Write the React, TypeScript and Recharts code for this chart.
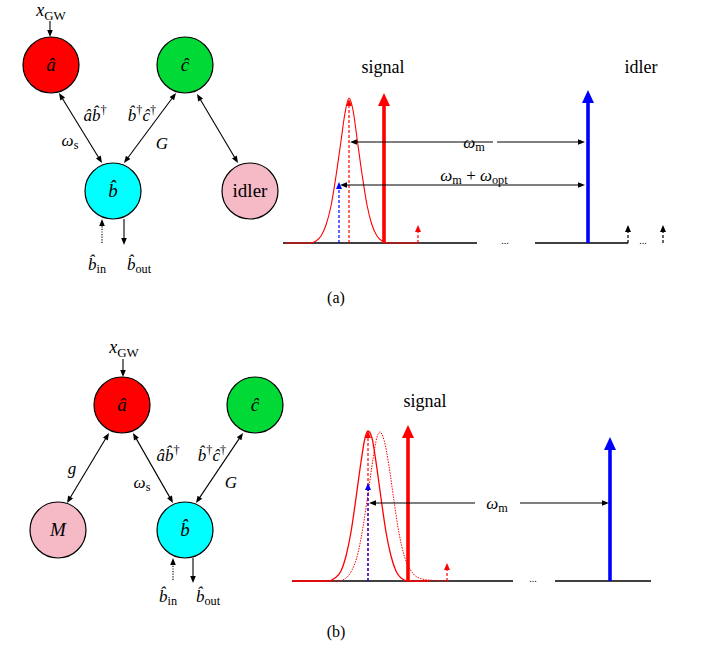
import React from 'react';
import { ComposedChart, XAxis, YAxis, Line, Scatter, ReferenceLine } from 'recharts';

// canvas units match the figure, y grows downwards
const W = 705;
const H = 649;

type Part = { t: string; i?: boolean; sub?: boolean; sup?: boolean };

const it = (t: string): Part => ({ t, i: true });
const rm = (t: string): Part => ({ t });
const sub = (t: string): Part => ({ t, sub: true });
const sup = (t: string): Part => ({ t, sup: true });

// cavity modes
const nodes = [
  { x: 51, y: 65, kind: 'a', parts: [it('â')] },
  { x: 185, y: 65, kind: 'c', parts: [it('ĉ')] },
  { x: 113, y: 191, kind: 'b', parts: [it('b\u0302')] },
  { x: 250, y: 191, kind: 'idler', parts: [rm('idler')] },
  { x: 122, y: 405, kind: 'a', parts: [it('â')] },
  { x: 255, y: 405, kind: 'c', parts: [it('ĉ')] },
  { x: 58, y: 530, kind: 'M', parts: [it('M')] },
  { x: 185, y: 530, kind: 'b', parts: [it('b\u0302')] },
];

const labels = [
  { x: 51, y: 10, role: 'big', parts: [it('x'), sub('GW')] },
  { x: 95, y: 115, role: 'math', parts: [it('â'), it('b\u0302'), sup('†')] },
  { x: 70, y: 140, role: 'math', parts: [it('ω'), sub('s')] },
  { x: 142, y: 115, role: 'math', parts: [it('b\u0302'), sup('†'), it('ĉ'), sup('†')] },
  { x: 162, y: 143, role: 'math', parts: [it('G')] },
  { x: 97, y: 264, role: 'math', parts: [it('b\u0302'), sub('in')] },
  { x: 139, y: 264, role: 'math', parts: [it('b\u0302'), sub('out')] },
  { x: 383, y: 67, role: 'title', parts: [rm('signal')] },
  { x: 641, y: 67, role: 'title', parts: [rm('idler')] },
  { x: 474, y: 142, role: 'math', parts: [it('ω'), sub('m')] },
  { x: 474, y: 175, role: 'math', parts: [it('ω'), sub('m'), rm(' + '), it('ω'), sub('opt')] },
  { x: 505, y: 241, role: 'dots', parts: [rm('...')] },
  { x: 643, y: 241, role: 'dots', parts: [rm('...')] },
  { x: 336, y: 298, role: 'caption', parts: [rm('(a)')] },
  { x: 124, y: 347, role: 'big', parts: [it('x'), sub('GW')] },
  { x: 72, y: 468, role: 'math', parts: [it('g')] },
  { x: 142, y: 482, role: 'math', parts: [it('ω'), sub('s')] },
  { x: 168, y: 455, role: 'math', parts: [it('â'), it('b\u0302'), sup('†')] },
  { x: 212, y: 455, role: 'math', parts: [it('b\u0302'), sup('†'), it('ĉ'), sup('†')] },
  { x: 231, y: 482, role: 'math', parts: [it('G')] },
  { x: 168, y: 596, role: 'math', parts: [it('b\u0302'), sub('in')] },
  { x: 208, y: 596, role: 'math', parts: [it('b\u0302'), sub('out')] },
  { x: 425, y: 401, role: 'title', parts: [rm('signal')] },
  { x: 497, y: 503, role: 'math', parts: [it('ω'), sub('m')] },
  { x: 533, y: 579, role: 'dots', parts: [rm('...')] },
  { x: 336, y: 632, role: 'caption', parts: [rm('(b)')] },
];

// couplings and ports: [x1, y1, x2, y2, kind, heads]
const arrows: [number, number, number, number, string, string][] = [
  [50, 21, 50, 37, 'thin', 'end'],
  [59, 93, 102, 163, 'thin', 'both'],
  [176, 93, 124, 163, 'thin', 'both'],
  [197, 94, 238, 163, 'thin', 'both'],
  [102, 243, 102, 219, 'dotted', 'end'],
  [124, 219, 124, 245, 'thin', 'end'],
  [493, 142, 350, 142, 'thin', 'end'],
  [497, 142, 585, 142, 'thin', 'end'],
  [340, 185, 585, 185, 'thin', 'both'],
  [123, 359, 123, 377, 'thin', 'end'],
  [109, 433, 67, 503, 'thin', 'both'],
  [133, 433, 173, 503, 'thin', 'both'],
  [243, 433, 196, 503, 'thin', 'both'],
  [173, 580, 173, 558, 'dotted', 'end'],
  [193, 558, 193, 583, 'thin', 'end'],
  [475, 503, 369, 503, 'thin', 'end'],
  [520, 503, 609, 503, 'thin', 'end'],
];

// spectral lines: [x, base, top, kind]
const spikes: [number, number, number, string][] = [
  [349, 243, 99, 'redDash'],
  [339, 243, 182, 'blueDash'],
  [384, 243, 93, 'red'],
  [418, 243, 225, 'redDash'],
  [588, 243, 90, 'blue'],
  [628, 243, 225, 'blackDash'],
  [663, 243, 225, 'blackDash'],
  [368, 581, 431, 'redDash'],
  [368, 581, 483, 'blueDash'],
  [408, 581, 425, 'red'],
  [447, 581, 563, 'redDash'],
  [610, 581, 437, 'blue'],
];

// frequency axes
const rules: [number, number, number][] = [
  [283, 477, 243],
  [535, 628, 243],
  [292, 513, 581],
  [555, 651, 581],
];

// signal spectra
const signalA = [
  { x: 285, y: 243 }, { x: 310, y: 243 }, { x: 316, y: 241 }, { x: 321, y: 236 },
  { x: 326, y: 225 }, { x: 331, y: 206 }, { x: 336, y: 176 }, { x: 341, y: 141 },
  { x: 345, y: 113 }, { x: 349, y: 98 }, { x: 353, y: 110 }, { x: 357, y: 138 },
  { x: 362, y: 174 }, { x: 367, y: 205 }, { x: 372, y: 225 }, { x: 377, y: 236 },
  { x: 382, y: 241 }, { x: 388, y: 243 }, { x: 418, y: 243 },
];

const signalB = [
  { x: 292, y: 581 }, { x: 328, y: 581 }, { x: 335, y: 578 }, { x: 341, y: 571 },
  { x: 346, y: 556 }, { x: 351, y: 532 }, { x: 356, y: 498 }, { x: 361, y: 462 },
  { x: 365, y: 438 }, { x: 368, y: 431 }, { x: 372, y: 438 }, { x: 376, y: 462 },
  { x: 381, y: 498 }, { x: 386, y: 532 }, { x: 391, y: 556 }, { x: 396, y: 571 },
  { x: 401, y: 578 }, { x: 408, y: 581 }, { x: 430, y: 581 },
];

const shiftedB = [
  { x: 292, y: 581 }, { x: 338, y: 581 }, { x: 346, y: 578 }, { x: 352, y: 570 },
  { x: 358, y: 553 }, { x: 363, y: 527 }, { x: 368, y: 494 }, { x: 373, y: 459 },
  { x: 377, y: 437 }, { x: 380, y: 432 }, { x: 384, y: 440 }, { x: 389, y: 466 },
  { x: 394, y: 501 }, { x: 399, y: 533 }, { x: 404, y: 555 }, { x: 410, y: 569 },
  { x: 417, y: 577 }, { x: 428, y: 580 }, { x: 450, y: 581 },
];

const nodeFill: Record<string, string> = {
  a: '#ff0000',
  b: '#00ffff',
  c: '#00d936',
  idler: '#f6b9c6',
  M: '#f6b9c6',
};

const arrowStyle: Record<string, any> = {
  thin: { stroke: '#000', w: 1.1, head: 7, half: 2.8 },
  dotted: { stroke: '#000', w: 1.1, head: 7, half: 2.8, dash: '1.2 1.4' },
  red: { stroke: '#ff0000', w: 3.6, head: 13, half: 6 },
  blue: { stroke: '#0000ff', w: 3.6, head: 13, half: 6 },
  redDash: { stroke: '#ff0000', w: 1.2, head: 7, half: 3, dash: '3 2' },
  blueDash: { stroke: '#0000ff', w: 1.2, head: 7, half: 3, dash: '3 2' },
  blackDash: { stroke: '#000', w: 1.2, head: 7, half: 3, dash: '3 2' },
};

const fontFor: Record<string, number> = { big: 18, math: 17, title: 18, caption: 16, dots: 10, node: 19 };

const SERIF = '"Liberation Serif", "DejaVu Serif", serif';

const Rich = ({ x, y, parts, size }: { x: number; y: number; parts: Part[]; size: number }) => {
  let shift = 0;
  const spans = parts.map((p, k) => {
    const target = p.sub ? size * 0.22 : p.sup ? -size * 0.38 : 0;
    const dy = target - shift;
    shift = target;
    return (
      <tspan
        key={k}
        dy={dy}
        fontStyle={p.i ? 'italic' : 'normal'}
        fontSize={p.sub || p.sup ? size * 0.72 : size}
      >
        {p.t}
      </tspan>
    );
  });
  return (
    <text x={x} y={y + size * 0.33} textAnchor="middle" fontFamily={SERIF} fontSize={size} fill="#000">
      {spans}
    </text>
  );
};

const Arrow = (p: any, kind: string, heads: string) => {
  const s = arrowStyle[kind];
  const { x1, y1, x2, y2 } = p;
  const dx = x2 - x1;
  const dy = y2 - y1;
  const len = Math.hypot(dx, dy) || 1;
  const ux = dx / len;
  const uy = dy / len;
  const both = heads === 'both';
  const sx = both ? x1 + ux * s.head * 0.8 : x1;
  const sy = both ? y1 + uy * s.head * 0.8 : y1;
  const ex = x2 - ux * s.head * 0.8;
  const ey = y2 - uy * s.head * 0.8;
  const tri = (tx: number, ty: number, vx: number, vy: number) => {
    const bx = tx - vx * s.head;
    const by = ty - vy * s.head;
    return `${tx},${ty} ${bx - vy * s.half},${by + vx * s.half} ${bx + vy * s.half},${by - vx * s.half}`;
  };
  return (
    <g>
      <line x1={sx} y1={sy} x2={ex} y2={ey} stroke={s.stroke} strokeWidth={s.w} strokeDasharray={s.dash} />
      <polygon points={tri(x2, y2, ux, uy)} fill={s.stroke} />
      {both && <polygon points={tri(x1, y1, -ux, -uy)} fill={s.stroke} />}
    </g>
  );
};

const NodeShape = (p: any) => {
  const { cx, cy, payload } = p;
  return (
    <g>
      <circle cx={cx} cy={cy} r={28} fill={nodeFill[payload.kind]} stroke="#000" strokeWidth={1.2} />
      <Rich x={cx} y={cy} parts={payload.parts} size={fontFor.node} />
    </g>
  );
};

const LabelShape = (p: any) => {
  const { cx, cy, payload } = p;
  return <Rich x={cx} y={cy} parts={payload.parts} size={fontFor[payload.role]} />;
};

export default function App() {
  return (
    <div style={{ position: 'absolute', left: 0, top: 0, width: W, height: H, background: '#fff' }}>
      <ComposedChart width={W} height={H} margin={{ top: 0, right: 0, bottom: 0, left: 0 }}>
        <XAxis type="number" dataKey="x" domain={[0, W]} allowDataOverflow hide />
        <YAxis type="number" dataKey="y" domain={[0, H]} reversed allowDataOverflow hide />

        {rules.map(([a, b, y], k) => (
          <ReferenceLine
            key={`rule-${k}`}
            segment={[{ x: a, y }, { x: b, y }]}
            stroke="#000"
            strokeWidth={1.3}
          />
        ))}

        <Line data={signalA} dataKey="y" type="monotone" stroke="#ff0000" strokeWidth={1.1} dot={false} isAnimationActive={false} />
        <Line data={shiftedB} dataKey="y" type="monotone" stroke="#ff0000" strokeWidth={1} strokeDasharray="1.5 1.2" dot={false} isAnimationActive={false} />
        <Line data={signalB} dataKey="y" type="monotone" stroke="#ff0000" strokeWidth={1.3} dot={false} isAnimationActive={false} />

        {spikes.map(([x, base, top, kind], k) => (
          <ReferenceLine
            key={`spike-${k}`}
            segment={[{ x, y: base }, { x, y: top }]}
            shape={(p: any) => Arrow(p, kind, 'end')}
          />
        ))}

        {arrows.map(([xa, ya, xb, yb, kind, heads], k) => (
          <ReferenceLine
            key={`arrow-${k}`}
            segment={[{ x: xa, y: ya }, { x: xb, y: yb }]}
            shape={(p: any) => Arrow(p, kind, heads)}
          />
        ))}

        <Scatter data={nodes} shape={NodeShape} isAnimationActive={false} />
        <Scatter data={labels} shape={LabelShape} isAnimationActive={false} />
      </ComposedChart>
    </div>
  );
}
